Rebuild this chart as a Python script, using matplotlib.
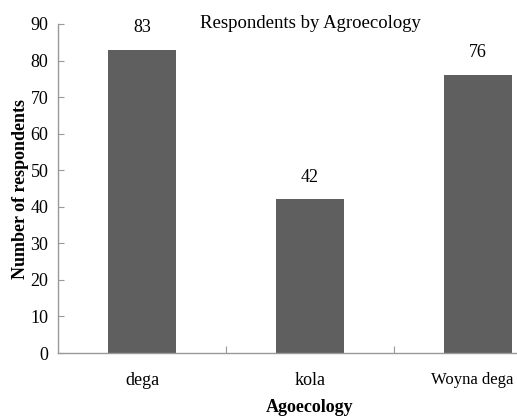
import numpy as np
import matplotlib
matplotlib.use("Agg")
import matplotlib.pyplot as plt
from matplotlib.transforms import ScaledTranslation

categories = ["dega", "kola", "Woyna dega"]
respondents = [83, 42, 76]
yticks = [0, 10, 20, 30, 40, 50, 60, 70, 80, 90]

plt.rcParams['font.family'] = ['Liberation Serif', 'DejaVu Serif']

fig = plt.figure(figsize=(5.17, 4.19), dpi=100)
# the axes runs past the right edge of the picture, like in the original
ax = fig.add_axes([58 / 517, 66 / 419, 504 / 517, 329 / 419])

x = np.arange(len(categories))
bars = ax.bar(x, respondents, width=0.40, color='#5f5f5f')

for xi, v in zip(x, respondents):
    ax.annotate(str(v), (xi, v), xytext=(0, 10), textcoords='offset points',
                ha='center', va='bottom', fontsize=13)

ax.set_xlim(-0.5, 2.5)
ax.set_ylim(0, 90)
ax.set_yticks(yticks)
ax.tick_params(axis='y', direction='in', length=4, width=0.8, color='#999999',
               pad=7, labelsize=13)

ax.set_xticks(x)
ax.set_xticklabels(categories)
ax.set_xticks([0.5, 1.5], minor=True)
ax.tick_params(axis='x', which='major', length=0, pad=14, labelsize=13)
ax.tick_params(axis='x', which='minor', direction='in', length=5, width=0.8,
               color='#999999')
# last label sits at the picture's edge, squeeze it and nudge it left so it fits
last = ax.get_xticklabels()[-1]
last.set_fontsize(12)
last.set_transform(last.get_transform() + ScaledTranslation(-6 / 100, 0, fig.dpi_scale_trans))

for s in ['top', 'right']:
    ax.spines[s].set_visible(False)
for s in ['left', 'bottom']:
    ax.spines[s].set_color('#999999')
    ax.spines[s].set_linewidth(1.0)

ax.set_ylabel("Number of respondents", fontsize=13, fontweight='bold')
ax.yaxis.set_label_coords(-0.058, 0.5)
ax.set_xlabel("Agoecology", fontsize=13, fontweight='bold')
ax.xaxis.set_label_coords(0.5, -0.14)

fig.text(310 / 517, 1 - 28 / 419, "Respondents by Agroecology",
         ha='center', va='baseline', fontsize=13.5)

fig.savefig("out.png", dpi=100)
